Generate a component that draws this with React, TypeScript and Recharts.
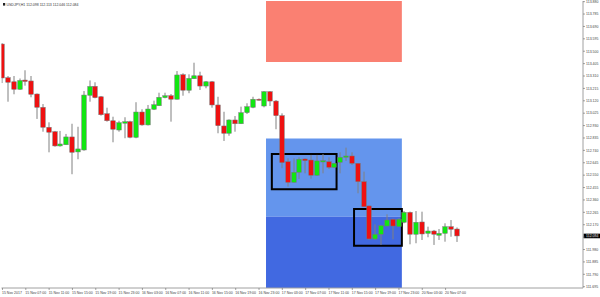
import React from 'react';
import { ComposedChart, Bar, XAxis, YAxis, ReferenceArea, ReferenceLine } from 'recharts';

const headerText = 'USDJPY,H1 112.098 112.113 112.046 112.084';

const openP = [
  113.555, 113.297, 113.266, 113.208, 113.279, 113.272, 113.172, 113.070, 112.917, 112.883,
  112.774, 112.783, 112.843, 112.728, 112.743, 113.162, 113.231, 113.151, 113.021, 112.967,
  112.896, 112.948, 112.960, 112.840, 113.034, 112.935, 113.055, 113.082, 113.144, 113.159,
  113.132, 113.320, 113.201, 113.289, 113.312, 113.233, 113.266, 113.088, 112.927, 112.871,
  112.973, 112.944, 113.029, 113.070, 113.132, 113.080, 113.190, 113.118, 113.006, 112.653,
  112.495, 112.572, 112.674, 112.666, 112.549, 112.651, 112.653, 112.610, 112.649, 112.687,
  112.697, 112.641, 112.500, 112.314, 112.061, 112.097, 112.160, 112.212, 112.155, 112.189,
  112.265, 112.097, 112.191, 112.104, 112.122, 112.089, 112.104, 112.155, 112.137,
];
const highP = [
  113.563, 113.310, 113.310, 113.291, 113.354, 113.310, 113.176, 113.095, 112.955, 112.889,
  112.889, 112.866, 112.944, 112.921, 113.195, 113.276, 113.262, 113.157, 113.067, 112.998,
  112.967, 112.994, 112.967, 113.109, 113.055, 113.088, 113.121, 113.182, 113.182, 113.172,
  113.348, 113.331, 113.323, 113.412, 113.343, 113.272, 113.272, 113.151, 113.036, 112.977,
  113.003, 113.075, 113.101, 113.151, 113.138, 113.195, 113.195, 113.126, 113.024, 112.679,
  112.679, 112.687, 112.679, 112.705, 112.705, 112.712, 112.687, 112.643, 112.725, 112.761,
  112.725, 112.643, 112.577, 112.317, 112.173, 112.168, 112.250, 112.218, 112.222, 112.275,
  112.271, 112.275, 112.270, 112.155, 112.130, 112.137, 112.181, 112.206, 112.149,
];
const lowP = [
  113.256, 113.113, 113.170, 113.204, 113.236, 113.147, 112.981, 112.883, 112.725, 112.768,
  112.768, 112.781, 112.557, 112.672, 112.737, 113.113, 113.139, 113.006, 112.960, 112.802,
  112.883, 112.833, 112.833, 112.833, 112.929, 112.931, 113.049, 113.080, 113.139, 112.960,
  113.130, 113.159, 113.178, 113.287, 113.203, 113.216, 113.067, 112.871, 112.812, 112.852,
  112.883, 112.942, 113.019, 113.063, 113.122, 113.070, 113.080, 112.902, 112.603, 112.462,
  112.492, 112.521, 112.564, 112.523, 112.544, 112.564, 112.597, 112.605, 112.564, 112.659,
  112.628, 112.411, 112.306, 112.053, 112.053, 112.015, 112.157, 112.058, 112.153, 112.181,
  112.020, 112.028, 112.053, 112.074, 112.015, 112.053, 112.040, 112.078, 112.038,
];
const closeP = [
  113.295, 113.262, 113.208, 113.276, 113.268, 113.170, 113.070, 112.917, 112.879, 112.774,
  112.789, 112.843, 112.725, 112.751, 113.164, 113.230, 113.144, 113.013, 112.967, 112.902,
  112.952, 112.960, 112.840, 113.034, 112.935, 113.057, 113.090, 113.147, 113.159, 113.132,
  113.318, 113.201, 113.292, 113.312, 113.233, 113.266, 113.088, 112.929, 112.871, 112.973,
  112.944, 113.029, 113.075, 113.132, 113.126, 113.190, 113.118, 113.006, 112.646, 112.495,
  112.572, 112.672, 112.661, 112.549, 112.659, 112.661, 112.610, 112.641, 112.687, 112.697,
  112.641, 112.500, 112.308, 112.061, 112.097, 112.163, 112.206, 112.160, 112.212, 112.265,
  112.097, 112.189, 112.099, 112.122, 112.097, 112.104, 112.155, 112.135, 112.084,
];

const timeTicks = [0, 4, 8, 12, 16, 20, 24, 28, 32, 36, 40, 44, 48, 52, 56, 60, 64, 68, 72, 76];
const timeLabels = [
  '15 Nov 2017', '15 Nov 07:00', '15 Nov 11:00', '15 Nov 15:00', '15 Nov 19:00', '15 Nov 23:00',
  '16 Nov 03:00', '16 Nov 07:00', '16 Nov 11:00', '16 Nov 15:00', '16 Nov 19:00', '16 Nov 23:00',
  '17 Nov 03:00', '17 Nov 07:00', '17 Nov 11:00', '17 Nov 15:00', '17 Nov 19:00', '17 Nov 23:00',
  '20 Nov 03:00', '20 Nov 07:00',
];

const priceTicks = [
  113.880, 113.785, 113.690, 113.595, 113.500, 113.405, 113.310, 113.215, 113.120, 113.025,
  112.930, 112.835, 112.740, 112.645, 112.550, 112.455, 112.360, 112.265, 112.170, 112.075,
  111.980, 111.885, 111.790, 111.695,
];
const priceDomain = [111.685, 113.885];
const barDomain = [-0.17, 99.57];

// zones (bar index range, price range)
const supplyZone = { x1: 45.2, x2: 68.5, y1: 113.417, y2: 113.885 };
const demandZone = { x1: 45.2, x2: 68.5, y1: 112.232, y2: 112.831 };
const demandZoneDeep = { x1: 45.2, x2: 68.5, y1: 111.685, y2: 112.232 };
const box1 = { x1: 46.2, x2: 57.3, y1: 112.442, y2: 112.712 };
const box2 = { x1: 60.3, x2: 68.5, y1: 112.009, y2: 112.291 };

const data = openP.map((o, i) => ({
  i,
  open: o,
  high: highP[i],
  low: lowP[i],
  close: closeP[i],
  range: [lowP[i], highP[i]],
}));

const lastClose = closeP[closeP.length - 1];

const GREEN = '#12e612';
const RED = '#ee1111';
const WICK = '#808080';
const AXIS = '#a0a0a0';
const FONT = '"Liberation Sans", Arial, sans-serif';

const Candle = (props: any) => {
  let { x, y, width, height, payload } = props;
  if (height < 0) {
    y = y + height;
    height = -height;
  }
  const { open, close, high, low } = payload;
  const span = high - low;
  const ratio = span === 0 ? 0 : height / span;
  const cxr = Math.round(x + width / 2);
  const yO = y + (high - open) * ratio;
  const yC = y + (high - close) * ratio;
  const top = Math.min(yO, yC);
  const h = Math.max(Math.abs(yO - yC), 1);
  const bull = close > open;
  return (
    <g>
      <line x1={cxr} x2={cxr} y1={y} y2={y + height} stroke={WICK} strokeWidth={1} />
      <rect
        x={cxr - 2.25}
        y={top}
        width={4.5}
        height={h}
        fill={bull ? GREEN : RED}
        stroke="#777"
        strokeWidth={0.5}
      />
    </g>
  );
};

const TimeTick = (props: any) => {
  const { x, y, payload } = props;
  const idx = timeTicks.indexOf(payload.value);
  const label = idx >= 0 ? timeLabels[idx] : '';
  return (
    <g>
      <line x1={x} x2={x} y1={y} y2={y + 2} stroke="#666" strokeWidth={0.6} />
      <text x={x - 0.5} y={y + 5.8} fontSize={3.5} fontFamily={FONT} fill="#444" textAnchor="start">
        {label}
      </text>
    </g>
  );
};

const PriceTick = (props: any) => {
  const { x, y, payload } = props;
  return (
    <g>
      <line x1={x} x2={x + 2} y1={y} y2={y} stroke="#666" strokeWidth={0.6} />
      <text x={x + 3} y={y + 1.3} fontSize={3.5} fontFamily={FONT} fill="#444" textAnchor="start">
        {Number(payload.value).toFixed(3)}
      </text>
    </g>
  );
};

const PriceTag = (props: any) => {
  const vb = props.viewBox || {};
  const x0 = (vb.x || 0) + (vb.width || 0);
  const y0 = vb.y || 0;
  return (
    <g>
      <rect x={x0 + 0.5} y={y0 - 2.3} width={17} height={4.6} fill="#000" />
      <text x={x0 + 3} y={y0 + 1.3} fontSize={3.5} fontFamily={FONT} fill="#fff" textAnchor="start">
        {lastClose.toFixed(3)}
      </text>
    </g>
  );
};

export default function App() {
  return (
    <div style={{ position: 'absolute', left: 0, top: 0, width: 600, height: 297, background: '#fff' }}>
      <ComposedChart
        width={600}
        height={297}
        data={data}
        margin={{ top: 1, right: 0, bottom: 0, left: 1.5 }}
      >
        <XAxis
          dataKey="i"
          type="number"
          domain={barDomain}
          allowDataOverflow
          ticks={timeTicks}
          interval={0}
          height={9}
          tickSize={0}
          tickMargin={0}
          tickLine={false}
          axisLine={{ stroke: AXIS }}
          tick={<TimeTick />}
        />
        <XAxis
          xAxisId="top"
          dataKey="i"
          type="number"
          domain={barDomain}
          allowDataOverflow
          orientation="top"
          height={0}
          tick={false}
          tickLine={false}
          axisLine={{ stroke: AXIS }}
        />
        <YAxis
          orientation="right"
          type="number"
          domain={priceDomain}
          allowDataOverflow
          ticks={priceTicks}
          interval={0}
          width={17}
          tickSize={0}
          tickMargin={0}
          tickLine={false}
          axisLine={{ stroke: AXIS }}
          tick={<PriceTick />}
        />
        <YAxis
          yAxisId="left"
          orientation="left"
          type="number"
          domain={priceDomain}
          allowDataOverflow
          width={0}
          tick={false}
          tickLine={false}
          axisLine={{ stroke: AXIS }}
        />
        <ReferenceArea {...supplyZone} fill="#fa8072" fillOpacity={1} stroke="none" ifOverflow="hidden" />
        <ReferenceArea {...demandZone} fill="#6495ed" fillOpacity={1} stroke="none" ifOverflow="hidden" />
        <ReferenceArea {...demandZoneDeep} fill="#4169e1" fillOpacity={1} stroke="none" ifOverflow="hidden" />
        <Bar dataKey="range" barSize={5} shape={<Candle />} isAnimationActive={false} />
        <ReferenceArea {...box1} fill="none" stroke="#000" strokeWidth={2} ifOverflow="hidden" />
        <ReferenceArea {...box2} fill="none" stroke="#000" strokeWidth={2} ifOverflow="hidden" />
        <ReferenceLine y={lastClose} stroke="none" ifOverflow="visible" label={<PriceTag />} />
      </ComposedChart>
      <svg
        width={100}
        height={8}
        style={{ position: 'absolute', left: 0, top: 0, pointerEvents: 'none' }}
      >
        <rect x={3} y={3} width={2.2} height={2.6} fill="#222" />
        <text x={6.5} y={5.7} fontSize={3.5} fontFamily={FONT} fill="#333">
          {headerText}
        </text>
      </svg>
    </div>
  );
}
